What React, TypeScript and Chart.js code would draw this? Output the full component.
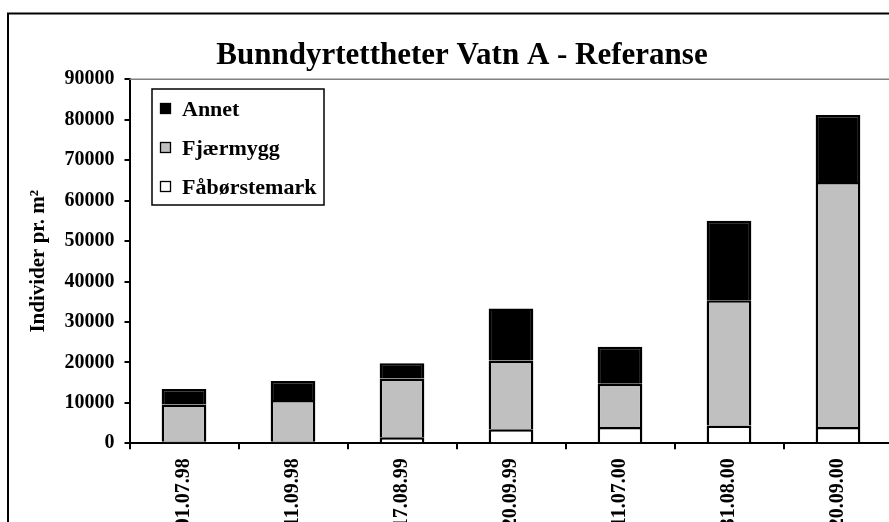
import React, { useEffect, useRef } from "react";
import { Chart, registerables } from "chart.js";

Chart.register(...registerables);

const categories = ["01.07.98", "11.09.98", "17.08.99", "20.09.99", "11.07.00", "31.08.00", "20.09.00"];
const faborstemark = [500, 500, 1500, 3500, 4000, 4400, 4000];
const fjaermygg = [9100, 10200, 14500, 17000, 10700, 31000, 60600];
const annet = [3800, 4700, 3800, 12800, 9200, 19600, 16600];
const yTicksMax = 90000;
const yTickStep = 10000;
const chartTitle = "Bunndyrtettheter Vatn A - Referanse";
const yTitle = "Individer pr. m²";

const FONT = "'Liberation Serif', 'Times New Roman', serif";
const W = 960;
const H = 580;

const decorPlugin = {
  id: "decor",
  beforeDraw(chart: any) {
    const ctx = chart.ctx;
    ctx.save();
    ctx.fillStyle = "#ffffff";
    ctx.fillRect(0, 0, chart.width, chart.height);
    ctx.restore();
  },
  afterDatasetsDraw(chart: any) {
    const ctx = chart.ctx;
    const a = chart.chartArea;
    ctx.save();
    ctx.strokeStyle = "#808080";
    ctx.lineWidth = 1.5;
    ctx.beginPath();
    ctx.moveTo(a.left, a.top);
    ctx.lineTo(a.right, a.top);
    ctx.stroke();
    ctx.restore();
  },
  afterDraw(chart: any) {
    const ctx = chart.ctx;
    ctx.save();
    ctx.strokeStyle = "#000";
    ctx.lineWidth = 2;
    ctx.beginPath();
    ctx.moveTo(8, chart.height + 5);
    ctx.lineTo(8, 13.5);
    ctx.lineTo(chart.width + 5, 13.5);
    ctx.stroke();

    ctx.fillStyle = "#000";
    ctx.font = `bold 31px ${FONT}`;
    ctx.textAlign = "center";
    ctx.textBaseline = "alphabetic";
    ctx.fillText(chartTitle, 462, 64);

    const bx = 152, by = 89, bw = 172, bh = 116;
    ctx.fillStyle = "#fff";
    ctx.fillRect(bx, by, bw, bh);
    ctx.strokeStyle = "#000";
    ctx.lineWidth = 1.5;
    ctx.strokeRect(bx, by, bw, bh);
    const ds = chart.data.datasets.slice().reverse();
    const rows = [110, 149, 188];
    ds.forEach((d: any, i: number) => {
      const cy = rows[i];
      ctx.fillStyle = d.backgroundColor;
      ctx.fillRect(160.5, cy - 6.5, 10, 10);
      ctx.strokeStyle = "#000";
      ctx.lineWidth = 1.3;
      ctx.strokeRect(160.5, cy - 6.5, 10, 10);
      ctx.fillStyle = "#000";
      ctx.font = `bold 22px ${FONT}`;
      ctx.textAlign = "left";
      ctx.textBaseline = "middle";
      ctx.fillText(d.label, 182, cy);
    });
    ctx.restore();
  },
};

export default function App() {
  const ref = useRef<HTMLCanvasElement | null>(null);
  useEffect(() => {
    if (!ref.current) return;
    const chart = new Chart(ref.current, {
      type: "bar",
      data: {
        labels: categories,
        datasets: [
          { label: "Fåbørstemark", data: faborstemark, backgroundColor: "#ffffff", borderColor: "#000", borderWidth: 2.5 },
          { label: "Fjærmygg", data: fjaermygg, backgroundColor: "#c0c0c0", borderColor: "#000", borderWidth: 2.5 },
          { label: "Annet", data: annet, backgroundColor: "#000000", borderColor: "#000", borderWidth: 2.5 },
        ],
      },
      options: {
        animation: false,
        responsive: false,
        devicePixelRatio: 1,
        layout: { padding: { left: 22, top: 79.3, right: W - 892.5, bottom: H - 443.3 - 100 } },
        datasets: { bar: { categoryPercentage: 1, barPercentage: 0.41 } },
        plugins: {
          legend: { display: false },
          title: { display: false },
          tooltip: { enabled: false },
        },
        scales: {
          x: {
            stacked: true,
            offset: true,
            grid: { display: true, drawOnChartArea: false, drawTicks: true, tickLength: 6, color: "#000", lineWidth: 2, offset: true },
            border: { display: true, color: "#000", width: 2 },
            ticks: {
              autoSkip: false,
              minRotation: 90,
              maxRotation: 90,
              padding: 9,
              color: "#000",
              font: { family: FONT, size: 20, weight: "bold" },
            },
            afterFit(scale: any) {
              scale.height = 100;
            },
          },
          y: {
            stacked: true,
            min: 0,
            max: yTicksMax,
            ticks: {
              stepSize: yTickStep,
              padding: 10,
              color: "#000",
              font: { family: FONT, size: 20, weight: "bold" },
              callback: (v: any) => String(v),
            },
            grid: { display: true, drawOnChartArea: false, drawTicks: true, tickLength: 5, color: "#000", lineWidth: 2 },
            border: { display: true, color: "#000", width: 2 },
            title: {
              display: true,
              text: yTitle,
              color: "#000",
              font: { family: FONT, size: 21, weight: "bold" },
              padding: { top: 4, bottom: 4 },
            },
            afterFit(scale: any) {
              scale.width = 107.5;
            },
          },
        },
      },
      plugins: [decorPlugin],
    } as any);
    return () => chart.destroy();
  }, []);
  return (
    <div style={{ position: "fixed", left: 0, top: 0, width: 889, height: 522, overflow: "hidden", background: "#fff" }}>
      <canvas ref={ref} width={W} height={H} style={{ display: "block", width: W, height: H }} />
    </div>
  );
}
